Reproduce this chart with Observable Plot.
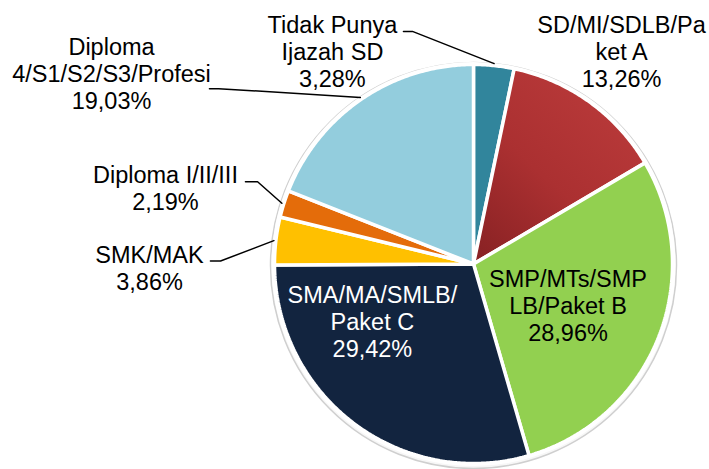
<!DOCTYPE html>
<html><head><meta charset="utf-8">
<script src="https://cdn.jsdelivr.net/npm/d3@7"></script>
<script src="https://cdn.jsdelivr.net/npm/@observablehq/plot@0.6"></script>
<style>html,body{margin:0;padding:0;background:#fff;}</style>
</head><body><div id="chart"></div>
<script>
// ---- data ----
const categories = ["Tidak Punya Ijazah SD", "SD/MI/SDLB/Paket A", "SMP/MTs/SMPLB/Paket B", "SMA/MA/SMLB/Paket C", "SMK/MAK", "Diploma I/II/III", "Diploma 4/S1/S2/S3/Profesi"];
const values = [3.28, 13.26, 28.96, 29.42, 3.86, 2.19, 19.03];
const labelLines = [["Tidak Punya", "Ijazah SD"], ["SD/MI/SDLB/Pa", "ket A"], ["SMP/MTs/SMP", "LB/Paket B"], ["SMA/MA/SMLB/", "Paket C"], ["SMK/MAK"], ["Diploma I/II/III"], ["Diploma", "4/S1/S2/S3/Profesi"]];

// ---- styles / layout ----
const colors = ["#31859c", "url(#redGrad)", "#92d050", "#12243f", "#ffc000", "#e46c0a", "#93cddd"];
const textColors = ["#000", "#000", "#000", "#fff", "#000", "#000", "#000"];
// label centre positions in pie-radius units
const labelPos = [[-0.709, 1.067], [0.744, 1.067], [0.475, -0.209], [-0.508, -0.289], [-1.628, -0.021], [-1.548, 0.381], [-1.819, 0.957]];
// leader lines: [startX, elbowX, y] (null = inside label)
const leaders = [[-0.352, -0.307, 1.166], null, null, null, [-1.322, -1.271, 0.015], [-1.146, -1.085, 0.412], [-1.327, -1.281, 0.879]];

const total = d3.sum(values);
let cum = 0;
const slices = values.map((v, i) => {
  const a0 = cum / total * 2 * Math.PI;
  cum += v;
  const a1 = cum / total * 2 * Math.PI;
  const pts = [{x: 0, y: 0}];
  const n = Math.max(2, Math.ceil((a1 - a0) / (Math.PI / 360)));
  for (let k = 0; k <= n; k++) {
    const a = a0 + (a1 - a0) * k / n;
    pts.push({x: Math.sin(a), y: Math.cos(a)});
  }
  return {i, a0, a1, mid: (a0 + a1) / 2, pts};
});

const fmt = v => v.toFixed(2).replace(".", ",") + "%";
const labels = categories.map((c, i) => ({
  text: [...labelLines[i], fmt(values[i])].join("\n"),
  x: labelPos[i][0], y: labelPos[i][1], color: textColors[i]
}));

const leaderPts = [];
leaders.forEach((l, i) => {
  if (!l) return;
  const m = slices[i].mid, r = 1.01;
  leaderPts.push({id: i, x: l[0], y: l[2]}, {id: i, x: l[1], y: l[2]}, {id: i, x: Math.sin(m) * r, y: Math.cos(m) * r});
});

const defs = () => {
  const d = d3.create("svg:defs");
  const g = d.append("linearGradient").attr("id", "redGrad").attr("x1", 0.85).attr("y1", 0.05).attr("x2", 0.1).attr("y2", 1);
  g.append("stop").attr("offset", "0%").attr("stop-color", "#bb3b3b");
  g.append("stop").attr("offset", "55%").attr("stop-color", "#ab3031");
  g.append("stop").attr("offset", "100%").attr("stop-color", "#8a2224");
  return d.node();
};

const plot = Plot.plot({
  width: 709, height: 469,
  marginLeft: 274, marginRight: 37, marginTop: 64, marginBottom: 6,
  x: {domain: [-1, 1], axis: null},
  y: {domain: [-1, 1], axis: null},
  style: {fontFamily: "'Liberation Sans', Arial, sans-serif", background: "#fff"},
  marks: [
    defs,
    Plot.dot([{x: 0, y: 0}], {x: "x", y: "y", r: 203, fill: "#f7f7f7", stroke: "#cfcfcf", strokeWidth: 1.5, dy: 1.5}),
    Plot.dot([{x: 0, y: 0}], {x: "x", y: "y", r: 202, fill: "#fff"}),
    ...slices.map(s => Plot.line(s.pts, {x: "x", y: "y", curve: "linear-closed", fill: colors[s.i], stroke: "#fff", strokeWidth: 3.5, strokeLinejoin: "miter"})),
    Plot.line(leaderPts, {x: "x", y: "y", z: "id", stroke: "#000", strokeWidth: 1.5}),
    Plot.text(labels, {x: "x", y: "y", text: "text", fill: "color", fontSize: 23.5, lineHeight: 1.15, textAnchor: "middle", lineAnchor: "middle"})
  ]
});
document.getElementById("chart").appendChild(plot);
</script>
</body></html>
